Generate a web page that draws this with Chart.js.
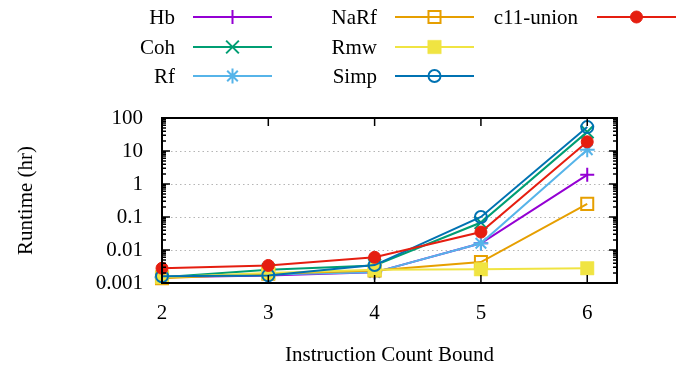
<!DOCTYPE html>
<html><head><meta charset="utf-8">
<script src="https://cdn.jsdelivr.net/npm/chart.js@4/dist/chart.umd.min.js"></script>
<style>html,body{margin:0;padding:0;background:#fff}#wrap{width:684px;height:371px}</style>
</head><body><div id="wrap"><canvas id="c" width="684" height="371"></canvas></div>
<script>
const categories = [2, 3, 4, 5, 6];
const xTicks = [2, 3, 4, 5, 6];
const yTicks = [0.001, 0.01, 0.1, 1, 10, 100];
const yTickLabels = ['0.001', '0.01', '0.1', '1', '10', '100'];
const seriesNames = ['Hb', 'Coh', 'Rf', 'NaRf', 'Rmw', 'Simp', 'c11-union'];
const hb   = [0.0015, 0.0017, 0.0021, 0.016, 1.9];
const coh  = [0.0015, 0.0025, 0.0034, 0.068, 38];
const rf   = [0.0015, 0.0018, 0.0021, 0.016, 11];
const naRf = [0.0014, 0.0019, 0.0024, 0.0043, 0.25];
const rmw  = [0.0015, 0.0020, 0.0025, 0.0026, 0.0028];
const simp = [0.0016, 0.0017, 0.0035, 0.10, 53];
const c11  = [0.0028, 0.0034, 0.0060, 0.035, 19];

const FONT = "'Liberation Serif', 'Times New Roman', serif";
const FS = 21;
const styles = [
  {color:'#9400D3', ps:'cross', fill:false, r:7, bw:2},
  {color:'#009E73', ps:'crossRot', fill:false, r:9, bw:2},
  {color:'#56B4E9', ps:'star', fill:false, r:7.5, bw:2},
  {color:'#E69F00', ps:'rect', fill:false, r:8.5, bw:2},
  {color:'#F0E442', ps:'rect', fill:true, r:9.5, bw:0.5},
  {color:'#0072B2', ps:'circle', fill:false, r:6, bw:2},
  {color:'#E51E10', ps:'circle', fill:true, r:6, bw:1}
];
const values = [hb, coh, rf, naRf, rmw, simp, c11];

const datasets = values.map((v, i) => {
  const s = styles[i];
  return {
    label: seriesNames[i],
    data: categories.map((x, j) => ({x: x, y: v[j]})),
    borderColor: s.color,
    backgroundColor: s.fill ? s.color : 'rgba(0,0,0,0)',
    pointBackgroundColor: s.fill ? s.color : 'rgba(255,255,255,0)',
    pointBorderColor: s.color,
    pointStyle: s.ps,
    pointRadius: s.r,
    pointBorderWidth: s.bw,
    borderWidth: 2,
    tension: 0,
    order: values.length - 1 - i,
    clip: false
  };
});

const framePlugin = {
  id: 'frame',
  afterDatasetsDraw(chart) {
    const ctx = chart.ctx, a = chart.chartArea;
    const xs = chart.scales.x, ys = chart.scales.y;
    ctx.save();
    ctx.strokeStyle = '#000';
    ctx.lineWidth = 1.5;
    ctx.beginPath();
    yTicks.forEach(v => {
      const y = ys.getPixelForValue(v);
      ctx.moveTo(a.left, y); ctx.lineTo(a.left + 8, y);
      ctx.moveTo(a.right, y); ctx.lineTo(a.right - 8, y);
    });
    for (let d = 0; d < yTicks.length - 1; d++) {
      for (let m = 2; m <= 9; m++) {
        const y = ys.getPixelForValue(yTicks[d] * m);
        ctx.moveTo(a.left, y); ctx.lineTo(a.left + 4, y);
        ctx.moveTo(a.right, y); ctx.lineTo(a.right - 4, y);
      }
    }
    xTicks.forEach(v => {
      const x = xs.getPixelForValue(v);
      ctx.moveTo(x, a.bottom); ctx.lineTo(x, a.bottom - 8);
      ctx.moveTo(x, a.top); ctx.lineTo(x, a.top + 8);
    });
    ctx.stroke();
    ctx.lineWidth = 2;
    ctx.strokeRect(a.left, a.top, a.right - a.left, a.bottom - a.top);
    ctx.restore();
  },
  afterDraw(chart) {
    const ctx = chart.ctx;
    ctx.save();
    ctx.font = FS + 'px ' + FONT;
    ctx.textAlign = 'right';
    ctx.textBaseline = 'middle';
    const colLabelRight = [175, 377, 578];
    const colLineStart = [193, 395, 597];
    const lineLen = 79;
    const rowY = [17, 47, 76];
    chart.data.datasets.forEach((ds, i) => {
      const col = Math.floor(i / 3), row = i % 3;
      const y = rowY[row];
      ctx.fillStyle = '#000';
      ctx.fillText(ds.label, colLabelRight[col], y + 1);
      ctx.strokeStyle = ds.borderColor;
      ctx.lineWidth = 2;
      ctx.beginPath();
      ctx.moveTo(colLineStart[col], y);
      ctx.lineTo(colLineStart[col] + lineLen, y);
      ctx.stroke();
      const cx = colLineStart[col] + lineLen / 2;
      ctx.fillStyle = ds.pointBackgroundColor;
      ctx.strokeStyle = ds.pointBorderColor;
      ctx.lineWidth = ds.pointBorderWidth;
      if (Chart.helpers && Chart.helpers.drawPoint) {
        Chart.helpers.drawPoint(ctx, {pointStyle: ds.pointStyle, radius: ds.pointRadius, rotation: 0, borderWidth: ds.pointBorderWidth}, cx, y);
      }
    });
    ctx.restore();
  }
};

new Chart(document.getElementById('c'), {
  type: 'line',
  data: { datasets: datasets },
  plugins: [framePlugin],
  options: {
    responsive: false,
    animation: false,
    layout: { padding: { top: 118, right: 67, left: 0, bottom: 0 } },
    plugins: { legend: { display: false }, tooltip: { enabled: false } },
    scales: {
      x: {
        type: 'linear',
        min: 2, max: 6.28,
        afterBuildTicks: s => { s.ticks = xTicks.map(v => ({value: v})); },
        afterFit: s => { s.height = 88; },
        grid: { display: false, drawTicks: false },
        border: { display: false },
        ticks: { color: '#000', font: { family: FONT, size: FS }, padding: 18, maxRotation: 0, callback: v => String(v) },
        title: { display: true, text: 'Instruction Count Bound', color: '#000', font: { family: FONT, size: FS }, padding: { top: 0, bottom: 3 } }
      },
      y: {
        type: 'logarithmic',
        min: 0.001, max: 100,
        afterBuildTicks: s => { s.ticks = yTicks.map(v => ({value: v})); },
        afterFit: s => { s.width = 162; },
        grid: {
          drawTicks: false,
          color: ctx => (ctx.tick && (ctx.tick.value === 0.001 || ctx.tick.value === 100)) ? 'rgba(0,0,0,0)' : '#b5b5b5',
          lineWidth: 1
        },
        border: { display: false, dash: [1.5, 3] },
        ticks: { color: '#000', font: { family: FONT, size: FS }, padding: 19,
          callback: (v) => { const k = yTicks.indexOf(v); return k >= 0 ? yTickLabels[k] : ''; } },
        title: { display: true, text: 'Runtime (hr)', color: '#000', font: { family: FONT, size: FS }, padding: { top: 14, bottom: 0 } }
      }
    }
  }
});
</script>
</body></html>
